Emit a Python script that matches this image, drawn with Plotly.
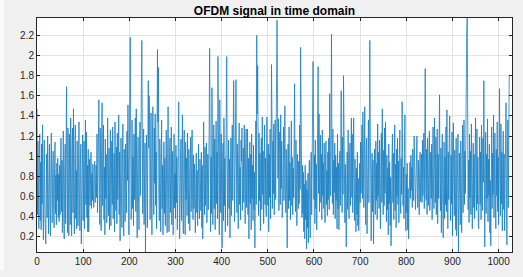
import plotly.graph_objects as go

# OFDM signal magnitude, samples 0..1023
sig_a = [1.47,0.42,1.15,0.61,0.28,1.05,1.22,0.36,0.94,0.27,1.12,0.53,1.31,0.42,0.17,0.98,1.16,0.44,0.25,0.13,0.68,1.02,0.39,1.20,0.71,0.23,0.79,1.12,0.47,0.21,0.84,1.23,
         0.66,0.34,0.87,1.05,0.48,0.29,0.88,1.14,0.43,0.81,0.32,0.93,0.56,0.98,0.39,0.82,0.35,0.91,0.42,0.87,1.18,0.45,0.96,0.24,0.79,1.25,0.38,0.18,0.84,1.12,0.33,1.60,
         1.69,0.76,0.24,1.28,0.95,0.21,1.22,0.56,0.32,1.38,0.63,0.21,1.07,1.28,0.44,1.47,0.52,0.23,0.99,1.31,0.38,0.86,0.28,1.15,0.59,0.31,1.01,1.34,0.47,0.26,0.92,1.12,
         0.13,0.48,1.04,1.21,0.36,0.82,1.15,0.28,0.95,1.36,0.52,1.24,0.39,0.91,0.25,1.07,0.25,0.58,0.97,0.51,0.89,1.04,0.48,0.83,0.56,0.92,0.61,0.49,0.87,0.95,0.54,0.82]
sig_b = [0.91,0.59,1.22,0.44,1.03,1.28,1.56,0.64,0.32,1.28,0.97,0.26,1.12,1.53,0.51,1.05,1.31,0.37,0.89,0.22,1.17,0.58,1.02,0.34,0.46,1.38,0.93,0.41,1.08,0.27,0.82,1.26,
         0.31,0.98,1.15,0.52,1.29,0.38,0.87,1.03,0.25,1.34,0.61,0.46,1.09,0.33,1.23,0.57,0.92,1.41,0.42,1.04,0.16,0.51,1.18,0.64,0.29,0.96,1.32,0.48,0.21,1.07,0.59,0.35,
         1.12,0.68,0.44,1.25,0.76,1.51,0.53,0.22,1.01,1.44,2.18,1.16,0.37,0.63,1.36,0.48,0.99,0.31,1.22,0.57,1.04,1.38,0.45,1.47,0.72,0.19,0.86,1.19,0.52,0.27,1.08,1.34,
         0.61,1.42,0.98,2.15,1.38,0.43,1.06,1.27,0.32,0.58,1.13,0.05,0.51,1.21,0.94,0.29,1.02,1.75,1.08,1.60,1.31,0.37,0.96,1.43,0.59,0.22,1.15,1.49,0.64,0.42,1.28,0.73]
sig_c = [1.42,0.51,1.04,0.28,1.23,2.06,1.34,1.88,0.62,0.36,1.17,0.93,0.25,1.07,1.36,0.48,0.91,0.22,0.79,1.14,0.43,0.98,0.31,0.85,1.26,0.52,0.24,1.03,1.49,0.57,0.25,0.96,
         1.18,0.44,0.87,1.29,0.32,0.76,1.05,0.22,0.91,1.22,0.49,0.83,0.38,1.11,0.54,0.99,0.27,0.81,1.33,1.54,0.73,0.18,0.52,1.04,1.17,0.36,0.95,1.41,0.48,0.23,1.01,1.26,
         0.62,0.22,1.14,0.57,0.98,0.41,1.23,0.66,0.33,1.07,0.52,0.26,0.94,1.19,0.45,0.88,1.26,0.59,0.37,1.01,0.48,0.92,0.28,0.24,0.77,1.03,0.44,0.86,0.31,0.95,1.12,0.53,
         0.38,0.97,0.62,0.46,1.04,0.29,0.91,0.18,0.56,1.34,0.64,0.42,1.09,0.51,0.95,1.13,0.34,0.88,1.02,0.47,0.81,1.26,2.07,0.54,0.25,0.99,0.43,1.68,1.06,0.32,0.87,1.31]
sig_d = [0.48,1.17,0.27,0.92,1.35,0.53,1.04,0.38,1.99,1.28,0.61,0.22,1.56,0.96,0.44,1.22,0.57,0.09,0.89,1.13,0.36,1.38,0.51,0.98,0.25,1.24,0.63,1.99,1.02,0.31,0.86,1.16,
         0.48,0.97,0.19,0.82,1.18,0.41,1.04,1.31,0.56,0.93,1.75,1.07,0.35,0.79,1.26,1.76,0.98,0.44,1.12,0.63,0.28,1.01,1.33,0.52,0.89,0.37,1.16,0.95,1.28,0.46,0.84,1.08,
         0.54,1.31,0.92,0.33,1.06,1.27,0.49,0.85,1.27,0.42,0.98,0.18,0.61,1.14,0.53,1.02,0.27,1.22,0.58,0.91,0.36,1.11,0.47,0.84,0.09,0.96,1.35,0.52,2.20,1.42,1.90,0.68,
         0.41,1.23,0.56,1.03,0.26,0.94,1.18,0.47,1.39,0.62,1.05,0.33,0.91,1.31,0.52,0.98,0.44,0.40,1.39,0.67,0.51,1.12,0.25,1.02,0.59,1.27,0.38,0.93,1.91,1.36,0.48,1.15]
sig_e = [0.63,1.32,0.42,1.04,1.36,0.57,1.28,1.74,2.35,1.62,0.78,1.37,0.46,1.08,1.24,0.52,1.41,0.68,1.15,0.39,0.45,0.93,1.29,0.56,1.02,1.50,0.61,0.44,1.07,0.28,0.09,0.84,
         1.12,0.48,1.29,0.56,0.94,0.37,0.83,1.35,0.51,0.99,0.42,0.88,0.59,1.24,1.72,0.73,0.45,1.16,0.54,0.31,1.02,0.62,0.48,0.95,0.53,1.31,0.67,2.08,1.43,0.52,0.39,0.91,
         0.43,0.84,0.25,0.72,0.18,0.91,0.37,0.76,0.08,0.67,0.29,0.83,0.14,0.71,0.96,0.35,0.19,0.79,1.04,0.42,0.88,1.22,1.94,1.38,0.57,1.01,0.33,1.16,0.48,0.92,0.27,1.06,
         1.34,1.89,0.63,1.42,0.45,0.96,1.21,0.54,1.02,0.37,1.26,0.61,0.93,0.48,1.13,0.59,0.34,0.98,1.15,0.52,0.86,0.41,1.04,0.57,1.18,0.47,1.62,0.72,0.61,1.45,2.21,0.86]
sig_f = [0.53,1.27,0.42,0.96,0.64,1.13,0.38,1.01,0.56,0.89,0.28,1.22,0.48,0.93,0.27,0.82,1.05,0.51,1.33,1.65,0.77,0.44,1.19,0.62,1.80,1.41,0.58,0.34,0.92,0.26,0.10,0.73,
         1.04,0.47,1.26,0.62,0.38,0.99,1.13,0.51,0.93,1.38,0.59,1.22,0.44,1.01,1.38,0.66,0.36,0.97,0.53,0.25,0.88,0.42,1.04,0.31,0.78,0.26,0.47,0.93,0.54,1.14,0.63,1.02,
         1.31,0.58,1.44,0.97,0.49,1.23,1.49,0.66,0.32,1.05,1.18,0.23,0.81,0.48,1.36,0.54,0.99,2.15,1.27,0.38,0.16,0.82,1.03,0.45,0.96,0.13,0.51,1.07,0.64,0.42,1.15,0.56,
         0.93,0.37,1.32,0.61,1.04,0.48,1.16,0.59,0.28,0.97,1.23,0.54,1.47,0.69,0.42,1.06,0.51,1.28,0.63,1.34,0.96,0.35,1.01,0.47,0.88,0.22,1.12,0.53,0.94,0.31,0.79,0.11]
sig_g = [0.48,0.96,1.22,0.54,1.03,0.37,0.88,1.31,0.46,0.92,0.29,1.07,0.61,1.18,0.52,0.95,0.34,1.01,1.26,0.58,0.43,0.98,0.62,1.54,1.13,0.51,0.89,0.38,1.05,1.41,0.57,0.26,
         0.82,0.44,0.93,0.27,0.68,0.18,0.52,0.81,0.94,0.58,1.01,0.66,0.89,0.49,1.07,0.69,0.56,1.20,0.76,0.98,0.47,0.72,0.92,1.20,0.63,0.49,0.96,0.71,0.42,0.89,1.04,0.55,
         0.73,1.02,0.54,1.16,0.61,0.96,1.23,0.48,1.04,1.87,0.73,0.56,1.07,0.42,1.18,0.63,0.51,0.99,1.25,0.46,0.89,1.04,0.58,1.12,0.37,0.95,1.29,0.61,0.48,1.38,1.03,0.54,
         1.19,0.42,0.91,1.27,0.33,1.02,0.58,1.35,1.61,0.67,0.46,1.08,0.24,0.94,1.22,0.51,0.19,0.83,1.14,0.38,0.99,0.52,1.29,0.45,1.46,0.73,0.28,1.04,0.57,1.18,1.40,0.62]
sig_h = [0.36,1.01,0.53,1.24,0.21,0.87,1.33,0.75,0.41,1.06,0.59,0.27,1.18,0.21,0.54,0.92,1.22,0.05,0.48,1.03,0.61,0.32,1.15,0.56,0.24,0.97,1.31,0.44,0.88,1.36,0.52,1.05,
         0.63,1.42,2.15,2.24,2.37,1.28,0.47,0.96,0.34,1.22,0.59,1.05,0.42,1.32,0.71,0.28,0.77,1.13,0.49,1.02,0.38,0.94,1.38,0.63,0.46,1.27,0.53,0.99,0.31,0.28,0.85,1.19,
         0.52,1.04,0.37,1.31,0.63,0.46,1.18,0.74,1.75,0.51,0.10,0.89,1.24,0.43,1.02,0.58,1.37,0.35,0.97,0.61,1.12,0.24,0.76,0.11,0.92,1.29,0.48,1.03,0.62,1.41,0.39,0.96,
         1.23,0.54,0.28,1.07,0.61,1.34,0.45,0.99,0.32,1.16,1.67,0.68,0.41,1.32,0.53,1.04,0.26,0.91,1.25,0.47,1.02,0.26,0.84,1.18,1.53,0.56,0.12,0.93,1.36,0.49,1.34,1.80]

signal = sig_a + sig_b + sig_c + sig_d + sig_e + sig_f + sig_g + sig_h
samples = list(range(len(signal)))

x_ticks = [0, 100, 200, 300, 400, 500, 600, 700, 800, 900, 1000]
y_ticks = [0.2, 0.4, 0.6, 0.8, 1.0, 1.2, 1.4, 1.6, 1.8, 2.0, 2.2]
y_tick_text = ["0.2", "0.4", "0.6", "0.8", "1", "1.2", "1.4", "1.6", "1.8", "2", "2.2"]
title_text = "OFDM signal in time domain"

FONT = "Liberation Sans, Arial, Helvetica, sans-serif"
AX = "#262626"

fig = go.Figure()
fig.add_trace(go.Scatter(x=samples, y=signal, mode="lines",
                         line=dict(color="#0072BD", width=0.8), opacity=0.9,
                         hoverinfo="skip"))

axis_common = dict(showline=True, linecolor=AX, linewidth=1, mirror="ticks",
                   ticks="inside", ticklen=3, tickcolor=AX, tickwidth=1,
                   showgrid=True, gridcolor="#e3e3e3", gridwidth=1,
                   zeroline=False, tickfont=dict(family=FONT, size=10, color=AX))

fig.update_layout(
    width=523, height=277,
    margin=dict(l=37, r=10, t=18, b=19),
    paper_bgcolor="#f0f0f0", plot_bgcolor="white",
    showlegend=False,
    title=dict(text="<b>" + title_text + "</b>", x=0.5, xref="paper",
               y=1 - 10.5 / 277, yref="container", yanchor="middle",
               font=dict(family=FONT, size=12, color="black")),
    xaxis=dict(range=[0, 1029], tickvals=x_ticks, **axis_common),
    yaxis=dict(range=[0.049, 2.372], tickvals=y_ticks, ticktext=y_tick_text, **axis_common),
)
fig.add_shape(type="rect", xref="paper", yref="paper",
              x0=-37 / 476, x1=-33 / 476, y0=-19 / 240, y1=1 + 18 / 240,
              fillcolor="#fbfbfb", line=dict(width=0), layer="below")

fig.write_html("out.html")
